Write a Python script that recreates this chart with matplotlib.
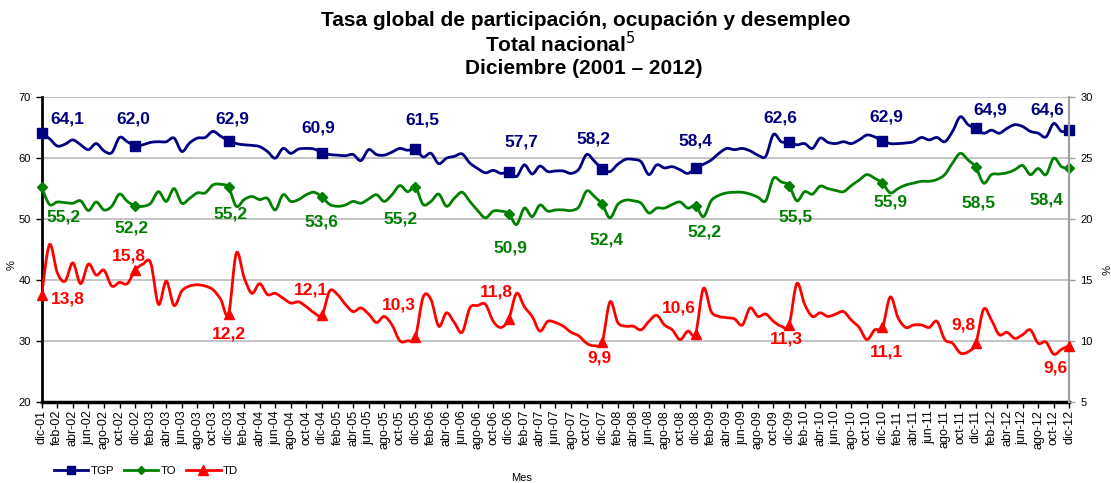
import numpy as np
import matplotlib
matplotlib.use("Agg")
import matplotlib.pyplot as plt
from matplotlib.path import Path
from matplotlib.patches import PathPatch
from matplotlib.lines import Line2D

plt.rcParams['font.family'] = ['Liberation Sans', 'DejaVu Sans']

meses = ["ene", "feb", "mar", "abr", "may", "jun", "jul", "ago", "sep", "oct", "nov", "dic"]
etiquetas = ["dic-01"] + [f"{meses[m]}-{a:02d}" for a in range(2, 13) for m in range(12)]

# Tasa global de participacion (%)
tgp = [64.1, 63.2, 62.0, 62.3, 63.0, 62.2, 61.4, 62.4, 61.2, 60.9, 63.4, 62.7,
       62.0, 62.2, 62.6, 62.7, 62.7, 63.3, 61.1, 62.5, 63.3, 63.4, 64.4, 63.6,
       62.9, 62.4, 62.2, 62.1, 61.9, 61.1, 60.0, 61.6, 60.8, 61.5, 61.6, 61.5,
       60.9, 60.6, 60.5, 60.4, 60.6, 59.6, 61.4, 60.6, 60.5, 61.0, 61.6, 61.3,
       61.5, 60.2, 60.8, 59.1, 60.0, 60.3, 60.7, 59.2, 58.3, 57.6, 58.0, 57.5,
       57.7, 57.0, 58.9, 57.4, 58.7, 57.8, 57.9, 57.9, 57.5, 58.2, 60.6, 59.5,
       58.2, 57.8, 59.0, 59.8, 59.8, 59.4, 57.3, 58.9, 58.4, 58.6, 58.1, 57.5,
       58.4, 59.0, 59.7, 60.8, 61.6, 61.4, 61.6, 61.2, 60.5, 60.3, 63.9, 62.7,
       62.6, 62.2, 62.4, 61.6, 63.3, 62.6, 62.4, 62.7, 62.4, 63.0, 63.8, 63.5,
       62.9, 62.4, 62.4, 62.5, 62.7, 63.4, 63.0, 63.4, 62.7, 64.4, 66.8, 65.5,
       64.9, 64.1, 64.6, 64.1, 64.9, 65.5, 65.2, 64.4, 64.1, 63.5, 65.7, 64.4,
       64.6]

# Tasa de ocupacion (%)
to = [55.2, 52.4, 52.8, 52.7, 52.6, 53.0, 51.4, 52.8, 51.5, 52.1, 54.1, 52.9,
      52.2, 52.1, 52.6, 54.5, 52.9, 55.0, 52.6, 53.4, 54.3, 54.3, 55.6, 55.7,
      55.2, 52.1, 53.2, 53.7, 53.2, 53.4, 51.5, 54.0, 52.9, 53.2, 54.0, 54.4,
      53.6, 52.4, 52.1, 52.3, 52.9, 52.6, 53.3, 54.0, 52.9, 54.0, 55.5, 54.5,
      55.2, 52.4, 52.9, 54.1, 52.1, 53.4, 54.4, 52.9, 51.4, 50.2, 51.3, 51.3,
      50.9, 49.1, 51.8, 50.4, 52.3, 51.3, 51.5, 51.5, 51.4, 52.0, 54.6, 53.7,
      52.4, 50.2, 52.4, 53.1, 53.0, 52.6, 51.0, 51.8, 51.8, 52.4, 52.8, 51.8,
      52.2, 50.4, 53.0, 53.9, 54.3, 54.4, 54.4, 54.1, 53.6, 53.0, 56.7, 56.1,
      55.5, 53.0, 54.5, 54.1, 55.4, 55.0, 54.7, 54.5, 55.5, 56.4, 57.3, 56.7,
      55.9, 54.3, 55.0, 55.6, 55.9, 56.2, 56.2, 56.5, 57.3, 59.2, 60.8, 59.7,
      58.5, 55.9, 57.3, 57.4, 57.6, 58.1, 58.8, 57.3, 58.3, 57.3, 60.0, 58.6,
      58.4]

# Tasa de desempleo (%), eje derecho
td = [13.8, 17.9, 15.6, 14.9, 16.4, 14.7, 16.3, 15.4, 15.8, 14.5, 14.8, 14.7,
      15.8, 16.3, 16.4, 13.0, 14.9, 12.9, 14.1, 14.5, 14.6, 14.5, 14.2, 13.4,
      12.2, 17.2, 15.2, 13.9, 14.7, 13.8, 13.9, 13.5, 13.1, 13.2, 12.8, 12.3,
      12.1, 14.1, 13.8, 13.0, 12.4, 12.7, 12.2, 11.5, 12.0, 11.3, 10.0, 10.0,
      10.3, 13.6, 13.4, 11.2, 12.3, 11.5, 10.7, 12.7, 12.9, 13.0, 11.6, 11.1,
      11.8, 13.9, 12.8, 12.0, 10.8, 11.6, 11.5, 11.2, 10.7, 10.4, 9.8, 9.6,
      9.9, 13.2, 11.5, 11.2, 11.2, 10.9, 11.6, 12.1, 11.3, 10.9, 10.1, 10.8,
      10.6, 14.3, 12.4, 12.0, 11.9, 11.8, 11.3, 12.7, 12.0, 12.2, 11.6, 11.2,
      11.3, 14.7, 13.0, 12.0, 12.3, 12.0, 12.2, 12.4, 11.7, 11.1, 10.1, 10.9,
      11.1, 13.6, 11.9, 11.1, 11.3, 11.3, 11.1, 11.6, 10.1, 9.8, 9.0, 9.1,
      9.8, 12.6, 11.7, 10.5, 10.7, 10.2, 10.5, 10.9, 9.8, 9.9, 8.9, 9.3,
      9.6]

# posicion de las etiquetas de diciembre (pixeles respecto al punto)
tgp_off = [(25.6, -14), (-2, -27), (4, -21.5), (-3.6, -25), (7, -29), (13, -29.7),
           (-9, -29.7), (0, -27), (-8.3, -24.7), (4, -23.8), (14.8, -18.4), (-21.6, -20.2)]
to_off = [(22, 29.3), (-4, 22.6), (2.3, 27), (-1, 24.5), (-14.5, 32), (1.5, 34.7),
          (4, 35.5), (9.2, 26), (6.2, 31), (8.3, 18.5), (2.6, 36), (-22.8, 32)]
td_off = [(26.3, 4.4), (-6.6, -14.6), (0.3, 19.5), (-11, -25.4), (-17, -32), (-12.6, -27),
          (-3, 15.7), (-17.3, -25.8), (-2.5, 13.7), (4, 24.5), (-12.4, -17.8), (-14.3, 22)]

NAVY = "#000080"
GREEN = "#008000"
RED = "#FF0000"


def smooth_path(x, y):
    # curva suavizada tipo Excel (Bezier por Catmull-Rom)
    pts = np.column_stack([x, y]).astype(float)
    n = len(pts)
    verts = [pts[0]]
    codes = [Path.MOVETO]
    for i in range(n - 1):
        p0 = pts[i - 1] if i > 0 else pts[i]
        p1 = pts[i]
        p2 = pts[i + 1]
        p3 = pts[i + 2] if i + 2 < n else pts[i + 1]
        verts += [p1 + (p2 - p0) / 6, p2 - (p3 - p1) / 6, p2]
        codes += [Path.CURVE4] * 3
    return Path(verts, codes)


fig = plt.figure(figsize=(11.11, 4.83), dpi=100)
ax = fig.add_axes([0.03753, 0.16832, 0.92494, 0.63023])
ax2 = ax.twinx()

x = np.arange(len(etiquetas))
dic = x[::12]

series = [(ax, tgp, NAVY, "s", 6.5, tgp_off),
          (ax, to, GREEN, "D", 5, to_off),
          (ax2, td, RED, "^", 7.5, td_off)]

for a, vals, col, mk, ms, offs in series:
    vals = np.array(vals)
    a.add_patch(PathPatch(smooth_path(x, vals), facecolor="none", edgecolor=col, lw=2, zorder=3))
    a.plot(dic, vals[::12], linestyle="none", marker=mk, ms=ms, color=col, clip_on=False, zorder=4)
    for k, m in enumerate(dic):
        dx, dy = offs[k]
        a.annotate(f"{vals[m]:.1f}".replace(".", ","), xy=(m, vals[m]), xytext=(dx, -dy),
                   textcoords="offset pixels", ha="center", va="center",
                   color=col, fontsize=12.5, fontweight="bold", zorder=5)

ax.set_xlim(0, 132)
ax.set_ylim(20, 70)
ax2.set_ylim(5, 30)
ax.set_yticks(range(20, 71, 10))
ax2.set_yticks(range(5, 31, 5))
ax.set_xticks(x[::2])
ax.set_xticklabels(etiquetas[::2], rotation=90, fontsize=9)

ax.yaxis.grid(True, color="#BFBFBF", lw=1.3)
ax.set_axisbelow(True)

for s in ["top", "right"]:
    ax.spines[s].set_visible(False)
for s in ["top", "left", "bottom"]:
    ax2.spines[s].set_visible(False)
ax.spines["left"].set_linewidth(2)
ax.spines["bottom"].set_linewidth(2.5)
ax2.spines["right"].set_color("#A0A0A0")
ax2.spines["right"].set_linewidth(1.5)

ax.tick_params(axis="x", length=4, width=1, pad=2)
ax.tick_params(axis="y", length=4, width=1, labelsize=8, pad=4)
ax2.tick_params(axis="y", length=4, width=1, color="#A0A0A0", labelsize=8, pad=4)

# etiquetas de los ejes
fig.text(12 / 1111, 1 - 265 / 483, "%", ha="center", va="center", fontsize=8, rotation=90)
fig.text(1104 / 1111, 1 - 270 / 483, "%", ha="center", va="center", fontsize=8, rotation=270)
fig.text(522 / 1111, 1 - 478 / 483, "Mes", ha="center", va="center", fontsize=8)

fig.text(586 / 1111, 1 - 20 / 483, "Tasa global de participación, ocupación y desempleo",
         ha="center", va="center", fontsize=15, fontweight="bold")
fig.text(560 / 1111, 1 - 44 / 483, "Total nacional$^{5}$", ha="center", va="center",
         fontsize=15, fontweight="bold")
fig.text(584 / 1111, 1 - 69 / 483, "Diciembre (2001 – 2012)", ha="center", va="center",
         fontsize=15, fontweight="bold")

handles = [Line2D([], [], color=NAVY, lw=2, marker="s", ms=6),
           Line2D([], [], color=GREEN, lw=2, marker="D", ms=4.5),
           Line2D([], [], color=RED, lw=2, marker="^", ms=6.5)]
fig.legend(handles, ["TGP", "TO", "TD"], loc="center left",
           bbox_to_anchor=(54 / 1111, 1 - 471 / 483), ncol=3, frameon=False,
           fontsize=8.2, handlelength=3, handletextpad=0.2, columnspacing=0.9,
           borderaxespad=0, borderpad=0)

fig.savefig("out.png", dpi=100)
